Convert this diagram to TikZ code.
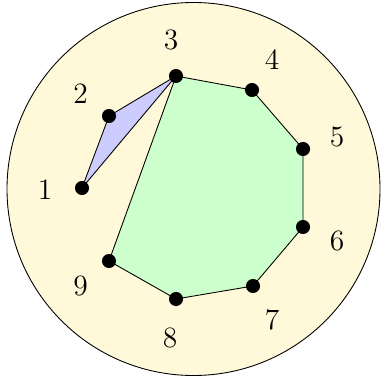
\documentclass[tikz,border=0pt]{standalone}
\definecolor{cream}{RGB}{255,249,217}
\begin{document}
\begin{tikzpicture}[x=0.454pt,y=-0.454pt,
  dot/.style={circle,fill=black,inner sep=0pt,minimum size=6.4pt},
  lbl/.style={inner sep=0pt,font=\fontsize{13.4}{16}\selectfont}]
\useasboundingbox (0,0) rectangle (381,384);
\draw[fill=cream] (193.5,189) circle[radius=186.5];
\coordinate (p1) at (82,188);
\coordinate (p2) at (109,116);
\coordinate (p3) at (176,76);
\coordinate (p4) at (252,90);
\coordinate (p5) at (303,149);
\coordinate (p6) at (303,227);
\coordinate (p7) at (253,286);
\coordinate (p8) at (176,299);
\coordinate (p9) at (109,261);
\draw[fill=blue!20] (p1) -- (p2) -- (p3) -- cycle;
\draw[fill=green!20] (p3) -- (p4) -- (p5) -- (p6) -- (p7) -- (p8) -- (p9) -- cycle;
\foreach \i in {1,...,9} \node[dot] (d\i) at (p\i) {};
\node[lbl] (l1) at (45,190) {1};
\node[lbl] (l2) at (80.5,93.5) {2};
\node[lbl] (l3) at (171,40) {3};
\node[lbl] (l4) at (272,60) {4};
\node[lbl] (l5) at (337,137.5) {5};
\node[lbl] (l6) at (337,241) {6};
\node[lbl] (l7) at (272,320) {7};
\node[lbl] (l8) at (170,338) {8};
\node[lbl] (l9) at (80.5,286) {9};
\end{tikzpicture}
\end{document}
